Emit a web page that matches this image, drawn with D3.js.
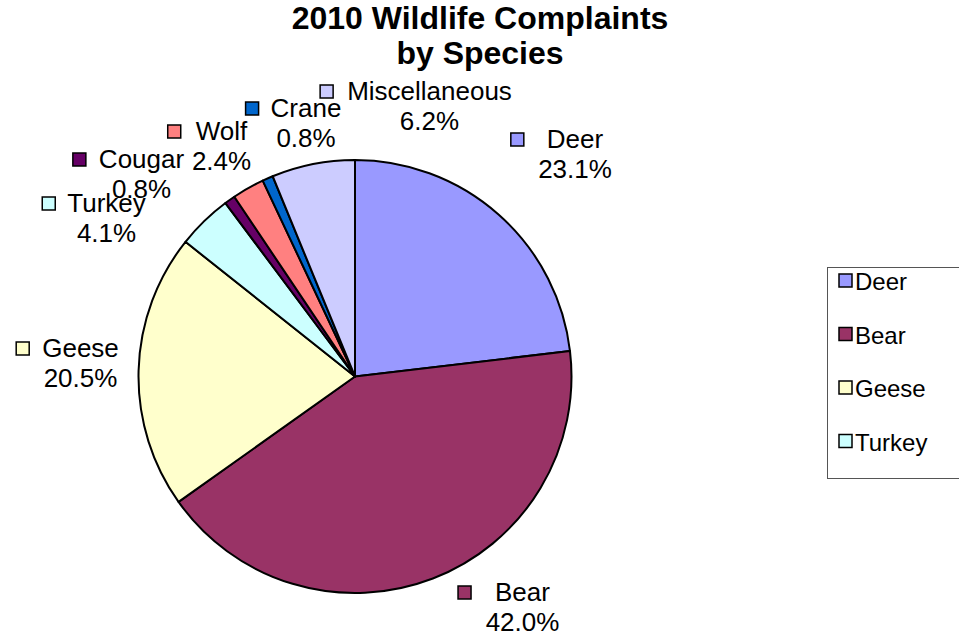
<!DOCTYPE html>
<html>
<head>
<meta charset="utf-8">
<script src="https://cdn.jsdelivr.net/npm/d3@7"></script>
<style>
  html, body { margin: 0; padding: 0; background: #fff; }
  svg { display: block; font-family: "Liberation Sans", Arial, sans-serif; }
</style>
</head>
<body>
<svg id="chart" width="959" height="636"></svg>
<script>
// ---- data ----
const categories = ["Deer", "Bear", "Geese", "Turkey", "Cougar", "Wolf", "Crane", "Miscellaneous"];
const percents = [23.1, 42.0, 20.5, 4.1, 0.8, 2.4, 0.8, 6.2];
const colors = ["#9999FF", "#993366", "#FFFFCC", "#CCFFFF", "#660066", "#FF8080", "#0066CC", "#CCCCFF"];
const legendItems = ["Deer", "Bear", "Geese", "Turkey"];
const titleLines = ["2010 Wildlife Complaints", "by Species"];

// ---- layout (annotation placement, relative to pie centre) ----
const labelLayout = [
  { dx: 220,    dy: -228.5, gap: 23 },
  { dx: 167.5,  dy: 224.5,  gap: 24 },
  { dx: -274.5, dy: -19.5,  gap: 13 },
  { dx: -248.5, dy: -164.5, gap: 12 },
  { dx: -213.5, dy: -208.5, gap: 13 },
  { dx: -133.5, dy: -236.5, gap: 15 },
  { dx: -49,    dy: -259.5, gap: 12 },
  { dx: 74.5,   dy: -276.5, gap: 14 }
];

const svg = d3.select("#chart");
const cx = 355, cy = 376.5, radius = 216.5;

// Title
svg.append("g").selectAll("text").data(titleLines).join("text")
  .attr("x", 480)
  .attr("y", (d, i) => 29 + i * 35)
  .attr("text-anchor", "middle")
  .attr("font-size", 32)
  .attr("font-weight", "bold")
  .attr("fill", "#000")
  .text(d => d);

// Pie
const data = categories.map((c, i) => ({ name: c, value: percents[i], color: colors[i] }));
const pie = d3.pie().value(d => d.value).sort(null);
const arc = d3.arc().innerRadius(0).outerRadius(radius);
const arcs = pie(data);

const g = svg.append("g").attr("transform", `translate(${cx},${cy})`);
g.selectAll("path").data(arcs).join("path")
  .attr("d", arc)
  .attr("fill", d => d.data.color)
  .attr("stroke", "#000")
  .attr("stroke-width", 2)
  .attr("stroke-linejoin", "round");

// Data labels
const fmt = d3.format(".1f");
const lab = g.append("g");
arcs.forEach((a, i) => {
  const L = labelLayout[i];
  const t = lab.append("text")
    .attr("x", L.dx).attr("y", L.dy)
    .attr("text-anchor", "middle")
    .attr("font-size", 26)
    .attr("fill", "#000")
    .text(a.data.name);
  const w = t.node().getComputedTextLength();
  const left = L.dx - w / 2;
  lab.append("rect")
    .attr("x", left - L.gap - 13).attr("y", L.dy - 15)
    .attr("width", 13).attr("height", 13)
    .attr("fill", a.data.color)
    .attr("stroke", "#000").attr("stroke-width", 1.5);
  lab.append("text")
    .attr("x", L.dx).attr("y", L.dy + 30)
    .attr("text-anchor", "middle")
    .attr("font-size", 26)
    .attr("fill", "#000")
    .text(fmt(a.data.value) + "%");
});

// Legend
const lg = svg.append("g");
lg.append("rect")
  .attr("x", 827.5).attr("y", 267.5)
  .attr("width", 140).attr("height", 211)
  .attr("fill", "#fff")
  .attr("stroke", "#555").attr("stroke-width", 1);
const rows = lg.selectAll("g.row").data(legendItems).join("g")
  .attr("class", "row")
  .attr("transform", (d, i) => `translate(839, ${290 + i * 53.5})`);
rows.append("rect")
  .attr("x", 0).attr("y", -16)
  .attr("width", 13).attr("height", 13)
  .attr("fill", d => colors[categories.indexOf(d)])
  .attr("stroke", "#000").attr("stroke-width", 1.5);
rows.append("text")
  .attr("x", 16).attr("y", 0)
  .attr("font-size", 24)
  .attr("fill", "#000")
  .text(d => d);
</script>
</body>
</html>
